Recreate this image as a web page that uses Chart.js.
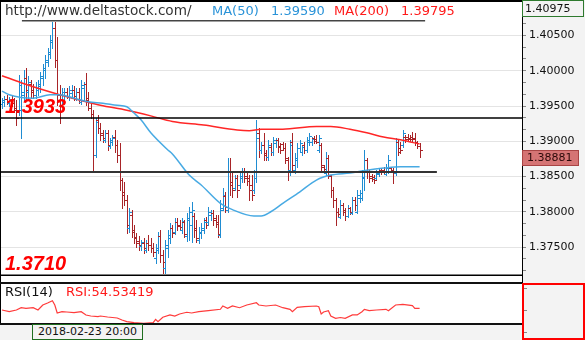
<!DOCTYPE html>
<html><head><meta charset="utf-8">
<script src="https://cdn.jsdelivr.net/npm/chart.js@4.4.1/dist/chart.umd.min.js"></script>
<style>
html,body{margin:0;padding:0;background:#fff;width:585px;height:340px;overflow:hidden;font-family:"DejaVu Sans",sans-serif;}
.a{position:absolute;white-space:nowrap;}
.lvl{font:italic bold 20px "Liberation Sans",Arial,sans-serif;color:#ff0000;line-height:20px;}
</style></head><body>
<div class="a" style="left:522px;top:0;width:63px;height:340px;background:#f3f3f3"></div>
<canvas id="main" class="a" style="left:0;top:0" width="585" height="283"></canvas>
<canvas id="rsi" class="a" style="left:0;top:283px" width="585" height="57"></canvas>

<div class="a" style="left:0;top:0;width:522px;height:2px;background:#000"></div>
<div class="a" style="left:0;top:0;width:1px;height:324px;background:#000"></div>
<div class="a" style="left:0;top:282px;width:522px;height:2px;background:#111"></div>
<div class="a" style="left:0;top:323px;width:522px;height:2px;background:#111"></div>
<div class="a" style="left:0;top:325px;width:522px;height:15px;background:#f3f3f3"></div>
<div class="a" style="left:32px;top:324px;width:111px;height:16px;box-sizing:border-box;border:1px solid #1f6e1f;background:#f3f3f3;font-size:11px;line-height:14px;color:#111;text-align:center">2018-02-23 20:00</div>
<div class="a" style="left:522px;top:283px;width:63px;height:57px;box-sizing:border-box;border:2px solid #ff0000"></div>

<div class="a" style="left:5px;top:2px;font-size:13.6px;line-height:16px;color:#333">http://www.deltastock.com/</div>
<div class="a" style="left:212px;top:3px;font-size:13px;line-height:16px;color:#2a93d8">MA(50)</div>
<div class="a" style="left:271px;top:3px;font-size:13px;line-height:16px;color:#2a93d8">1.39590</div>
<div class="a" style="left:334px;top:3px;font-size:13px;line-height:16px;color:#ff1a1a">MA(200)</div>
<div class="a" style="left:401px;top:3px;font-size:13px;line-height:16px;color:#ff1a1a">1.39795</div>
<div class="a lvl" style="left:5px;top:96px">1.3933</div>
<div class="a lvl" style="left:5px;top:253px">1.3710</div>
<div class="a" style="left:5px;top:284px;font-size:13px;line-height:16px;color:#111">RSI(14)</div>
<div class="a" style="left:66px;top:284px;font-size:13px;line-height:16px;color:#ff1a1a">RSI:54.53419</div>

<script>
const barOpen=[
1.3953,1.3956,1.3960,1.3954,1.3958,1.3954,1.3947,1.3941,1.3944,1.3966,
1.3990,1.3970,1.3981,1.3973,1.3966,1.3973,1.3978,1.3990,1.4001,1.4012,
1.4024,1.4041,1.4061,1.4015,1.3966,1.39585,1.3966,1.3970,1.3963,1.3968,
1.3973,1.3961,1.3970,1.3956,1.3975,1.3981,1.3961,1.3947,1.3939,1.3880,
1.3930,1.3919,1.3912,1.3902,1.3912,1.3893,1.3899,1.3906,1.3895,1.3880,
1.3845,1.3828,1.3817,1.3777,1.3795,1.3774,1.3764,1.3759,1.3751,1.3756,
1.3746,1.3756,1.3753,1.3749,1.3734,1.3746,1.3766,1.3739,1.3720,1.3749,
1.3763,1.3777,1.3771,1.3786,1.3781,1.3774,1.3786,1.3766,1.3788,1.3781,
1.3794,1.3777,1.3760,1.3770,1.3774,1.3788,1.3786,1.3795,1.3798,1.3791,
1.3786,1.3767,1.3805,1.3822,1.3803,1.3856,1.3842,1.3834,1.3848,1.3838,
1.3848,1.3856,1.3851,1.3848,1.3838,1.3831,1.3848,1.3912,1.3888,1.3895,
1.3883,1.3878,1.3892,1.3885,1.3897,1.3902,1.3893,1.3896,1.3890,1.3873,
1.3859,1.3899,1.3859,1.3873,1.3890,1.3885,1.3895,1.3888,1.3899,1.3899,
1.3905,1.3903,1.3888,1.3895,1.3863,1.3855,1.3876,1.3851,1.3831,1.3817,
1.3800,1.3793,1.3810,1.3803,1.3794,1.3805,1.3798,1.3817,1.3800,1.3820,
1.3820,1.3848,1.3873,1.3856,1.3851,1.3849,1.3848,1.3854,1.3859,1.3859,
1.3854,1.3856,1.3862,1.3859,1.3855,1.3899,1.3890,1.3895,1.3906,1.3906,
1.3905,1.3906,1.3905,1.3899,1.3893];
const barHigh=[
1.3961,1.3964,1.3966,1.3963,1.3964,1.3961,1.3958,1.3994,1.3987,1.4001,
1.4004,1.3993,1.3987,1.3981,1.3984,1.3987,1.3998,1.4010,1.4022,1.4032,
1.4051,1.4069,1.4069,1.4048,1.3980,1.3975,1.3975,1.3975,1.3978,1.3980,
1.3978,1.3975,1.3975,1.3987,1.3984,1.3997,1.3970,1.3953,1.3944,1.3933,
1.3937,1.3926,1.3916,1.3916,1.3916,1.3905,1.3909,1.3916,1.3902,1.3897,
1.3848,1.3842,1.3824,1.3805,1.3803,1.3781,1.3770,1.3766,1.3760,1.3763,
1.3760,1.3767,1.3763,1.3756,1.3754,1.3771,1.3774,1.3746,1.3760,1.3774,
1.3784,1.3781,1.3791,1.3791,1.3788,1.3791,1.3788,1.3798,1.3807,1.3814,
1.3798,1.3788,1.3778,1.3784,1.3791,1.3793,1.3807,1.3803,1.3803,1.3795,
1.3795,1.3817,1.3834,1.3828,1.3876,1.3876,1.3856,1.3852,1.3852,1.3856,
1.3862,1.3862,1.3856,1.3852,1.3852,1.3859,1.3930,1.3919,1.3899,1.3912,
1.3888,1.3902,1.3897,1.3906,1.3905,1.3905,1.3897,1.3899,1.3897,1.3878,
1.3902,1.3912,1.3883,1.3897,1.3902,1.3895,1.3899,1.3906,1.3912,1.3906,
1.3907,1.3909,1.3909,1.3897,1.3866,1.3885,1.3880,1.3852,1.3835,1.3820,
1.3805,1.3817,1.3812,1.3805,1.3810,1.3807,1.3821,1.3821,1.3831,1.3831,
1.3859,1.3888,1.3876,1.3859,1.3854,1.3852,1.3859,1.3862,1.3862,1.3863,
1.3868,1.3880,1.3863,1.3862,1.3905,1.3902,1.3899,1.3916,1.3909,1.3910,
1.3909,1.3913,1.3912,1.3900,1.3897];
const barLow=[
1.3947,1.3950,1.3953,1.3950,1.3950,1.3941,1.3923,1.3937,1.3905,1.3958,
1.3958,1.3958,1.3961,1.3961,1.3961,1.3966,1.3970,1.3980,1.3990,1.4007,
1.4018,1.4032,1.4005,1.3951,1.3926,1.3953,1.39585,1.3961,1.39585,1.3961,
1.39585,1.39585,1.3954,1.3953,1.39585,1.3951,1.3944,1.3933,1.3856,1.3878,
1.3912,1.3902,1.3899,1.3899,1.3888,1.3890,1.3895,1.3885,1.3871,1.3831,
1.3805,1.3810,1.3770,1.3771,1.3764,1.3756,1.3750,1.3746,1.3746,1.3742,
1.3743,1.3746,1.3743,1.3737,1.3727,1.3742,1.3729,1.3713,1.3713,1.3736,
1.3756,1.3764,1.3768,1.3774,1.3776,1.3770,1.3764,1.3759,1.3760,1.3757,
1.3764,1.3757,1.3756,1.3763,1.3770,1.3777,1.3781,1.3788,1.3781,1.3778,
1.3764,1.3764,1.3803,1.3800,1.3800,1.3824,1.3821,1.3831,1.3821,1.3834,
1.3842,1.3842,1.3838,1.3817,1.3817,1.3827,1.3842,1.3878,1.3883,1.3873,
1.3873,1.3873,1.3880,1.3880,1.3892,1.3885,1.3883,1.3888,1.3869,1.3845,
1.3852,1.3856,1.3855,1.3863,1.3885,1.3880,1.3883,1.3885,1.3895,1.3895,
1.3897,1.3897,1.3885,1.3859,1.3858,1.3852,1.3848,1.3821,1.3807,1.3781,
1.3794,1.3791,1.3795,1.3788,1.3793,1.3797,1.3797,1.3803,1.3798,1.3814,
1.3817,1.3831,1.3848,1.3842,1.3844,1.3841,1.3846,1.3851,1.3854,1.3855,
1.3852,1.3855,1.3856,1.3841,1.3852,1.3880,1.3883,1.3892,1.3899,1.3900,
1.3900,1.3899,1.3895,1.3890,1.3878];
const barClose=[
1.39585,1.3960,1.3956,1.3960,1.3954,1.3944,1.3933,1.3980,1.3970,1.3990,
1.3973,1.3984,1.3970,1.3966,1.3975,1.3981,1.3993,1.4004,1.4015,1.4027,
1.4044,1.4061,1.4015,1.3966,1.39585,1.3970,1.3970,1.3964,1.3973,1.3973,
1.3964,1.3970,1.39585,1.3980,1.3981,1.39585,1.3947,1.3939,1.3880,1.3927,
1.3919,1.3909,1.3905,1.3912,1.3895,1.3902,1.3905,1.3895,1.3880,1.3845,
1.3824,1.3817,1.3781,1.3800,1.3771,1.3763,1.3756,1.3753,1.3757,1.3749,
1.3756,1.3753,1.3749,1.3743,1.3749,1.3766,1.3739,1.3729,1.3753,1.3767,
1.3777,1.3770,1.3786,1.3780,1.3778,1.3787,1.3768,1.3791,1.3800,1.3803,
1.3774,1.3763,1.3771,1.3777,1.3786,1.3781,1.3800,1.3798,1.3788,1.3783,
1.3768,1.3803,1.3824,1.3807,1.3856,1.3838,1.3831,1.3848,1.3831,1.3851,
1.3856,1.3848,1.3844,1.3831,1.3824,1.3848,1.3905,1.3888,1.3895,1.3880,
1.3878,1.3895,1.3885,1.3902,1.3902,1.3892,1.3888,1.3890,1.3876,1.3856,
1.3895,1.3866,1.3876,1.3890,1.3897,1.3892,1.3888,1.3902,1.3907,1.3903,
1.3900,1.3899,1.3905,1.3866,1.3861,1.3876,1.3852,1.3831,1.3817,1.3800,
1.3797,1.3810,1.3800,1.3794,1.3805,1.3800,1.3817,1.3810,1.3824,1.3827,
1.3849,1.3873,1.3856,1.3848,1.3846,1.3845,1.3855,1.3859,1.3856,1.3856,
1.3862,1.3873,1.3858,1.3855,1.3899,1.3885,1.3888,1.3912,1.3903,1.3903,
1.3903,1.3903,1.3899,1.3893,1.38881];

const ma50Idx=[0,3,8,13,20,24,30,36,42,48,52,55,58,62,69,71,78,83,91,96,105,108,112,117,124,131,137,145,152,159,166,174];
const ma50Val=[1.3971,1.3966,1.3962,1.3961,1.3966,1.3966,1.3961,1.3956,1.3954,1.3951,1.3949,1.3940,1.3930,1.3912,1.3888,1.3882,1.3852,1.3838,1.3812,1.3803,1.3794,1.3794,1.3800,1.3812,1.3828,1.3845,1.3852,1.3855,1.3859,1.3862,1.3864,1.3864];
const ma200Idx=[0,8,16,24,35,41,52,62,71,84,98,103,108,117,131,137,145,152,159,166,174];
const ma200Val=[1.3993,1.3983,1.3974,1.3966,1.3956,1.3951,1.3944,1.3936,1.3928,1.3923,1.3916,1.3915,1.3917,1.3917,1.3921,1.3921,1.3917,1.3912,1.3906,1.3902,1.3896];
const rsiIdx=[0,3,6,8,10,13,15,17,19,21,22,23,25,27,30,33,35,37,40,41,44,48,50,52,55,59,63,64,65,67,70,72,74,77,79,82,86,91,92,94,96,99,102,106,107,110,114,117,120,121,123,126,131,132,133,134,136,137,139,141,143,146,148,150,151,153,156,160,161,164,167,171,172,174];
const rsiVal=[51.4,48.4,51.4,55.6,54.5,55.6,51.4,60.5,64.2,68.4,60.5,46.0,48.4,47.8,46.5,48.4,42.4,40.5,39.3,40.5,38.7,36.9,33.2,30.2,28.4,27.3,28.4,34.5,30.2,38.2,42.4,40.5,44.2,47.3,46.0,48.4,50.2,52.7,58.7,54.5,58.7,55.6,60.5,64.7,60.5,58.7,60.5,55.6,52.7,48.4,56.3,57.4,58.7,57.4,44.2,47.8,50.2,40.5,36.3,37.8,36.3,42.4,42.4,48.4,52.7,50.2,51.4,52.7,50.2,60.5,61.8,59.3,54.5,54.53419];

const levelValues=[1.3933,1.3710,1.38564,1.40709];
const levelFrom=[-0.833,-0.833,-0.833,8.3];
const levelTo=[216.667,216.667,181.2,176.3];
const yMajorTicks=[1.375,1.380,1.385,1.390,1.395,1.400,1.405];
const rsiTicks=[10,30,50,70,90];

const yMin=1.37004, yMax=1.40975, xMin=-0.833, xMax=216.667;
const rsiMin=-3.11, rsiMax=100.53;
const UP='#1f8cd2', DOWN='#a82428';
const levelColors=['#000','#000','#333','#444'];
const levelWidths=[1.5,1.5,2,1.5];

Chart.defaults.font.family="'DejaVu Sans', sans-serif";

const ohlcPlugin={id:'ohlc',beforeDatasetsDraw(chart){
  const ctx=chart.ctx, x=chart.scales.x, y=chart.scales.y;
  ctx.save();
  for(let i=0;i<barClose.length;i++){
    const px=Math.round(x.getPixelForValue(i));
    const yh=Math.round(y.getPixelForValue(barHigh[i])), yl=Math.round(y.getPixelForValue(barLow[i]));
    const yo=Math.round(y.getPixelForValue(barOpen[i])), yc=Math.round(y.getPixelForValue(barClose[i]));
    ctx.fillStyle=barClose[i]>=barOpen[i]?UP:DOWN;
    ctx.fillRect(px,yh,1,Math.max(1,yl-yh+1));
    ctx.fillRect(px-2,yo,2,1);
    ctx.fillRect(px+1,yc,2,1);
  }
  ctx.restore();
}};
const boxPlugin={id:'boxes',afterDraw(chart){
  const ctx=chart.ctx, y=chart.scales.y, r=chart.chartArea.right;
  ctx.save();
  ctx.font="11px 'DejaVu Sans'"; ctx.textBaseline='middle'; ctx.textAlign='left';
  ctx.fillStyle='#f3f3f3'; ctx.fillRect(r+1,0,62,17);
  ctx.strokeStyle='#2e7a2e'; ctx.lineWidth=1; ctx.strokeRect(r+0.5,0.5,61,16);
  ctx.fillStyle='#111'; ctx.fillText(y.max.toFixed(5),r+3,9);
  const last=barClose[barClose.length-1];
  const py=Math.round(y.getPixelForValue(last));
  ctx.fillStyle='#d57474'; ctx.fillRect(r,py,57,16);
  ctx.strokeStyle='#a84444'; ctx.strokeRect(r+0.5,py+0.5,56,15);
  ctx.fillStyle='#2a0808'; ctx.fillText(last.toFixed(5),r+5,py+8.5);
  ctx.restore();
}};

function lineDs(pts,color,w){return {type:'line',data:pts,borderColor:color,borderWidth:w,pointRadius:0,fill:false,cubicInterpolationMode:'monotone'};}
const ds=[];
levelValues.forEach((v,k)=>ds.push(lineDs([{x:levelFrom[k],y:v},{x:levelTo[k],y:v}],levelColors[k],levelWidths[k])));
ds.push(lineDs(ma50Idx.map((x,k)=>({x,y:ma50Val[k]})),'rgba(62,165,225,0.95)',1.5));
ds.push(lineDs(ma200Idx.map((x,k)=>({x,y:ma200Val[k]})),'#ff2626',1.5));

new Chart(document.getElementById('main'),{
  type:'line',
  data:{datasets:ds},
  plugins:[ohlcPlugin,boxPlugin],
  options:{
    responsive:false,animation:false,devicePixelRatio:1,events:[],
    layout:{padding:{left:0,right:0,top:2,bottom:1}},
    plugins:{legend:{display:false},tooltip:{enabled:false}},
    scales:{
      x:{type:'linear',min:xMin,max:xMax,display:false},
      y:{type:'linear',position:'right',min:yMin,max:yMax,
        afterBuildTicks(s){
          const step=(yMajorTicks[1]-yMajorTicks[0])/3, t=[];
          for(let k=-3;k<=(yMajorTicks.length-1)*3+3;k++){
            const v=yMajorTicks[0]+k*step;
            if(v>=yMin&&v<=yMax) t.push({value:v,major:(k%3===0)&&k>=0&&k<=(yMajorTicks.length-1)*3});
          }
          s.ticks=t;
        },
        afterFit(s){s.width=63;s.paddingTop=0;s.paddingBottom=0;},
        grid:{color:c=>(c.tick&&c.tick.major)?'#e4e4e4':'rgba(0,0,0,0)',tickColor:'#888',tickLength:4,lineWidth:1},
        border:{display:true,color:'#000',width:1},
        ticks:{autoSkip:false,padding:3,color:'#111',font:{size:11},callback:(v,i,ts)=>ts[i].major?v.toFixed(5):''}
      }
    }
  }
});

new Chart(document.getElementById('rsi'),{
  type:'line',
  data:{datasets:[{data:rsiIdx.map((x,k)=>({x,y:rsiVal[k]})),borderColor:'#ff3b3b',borderWidth:1.2,pointRadius:0,fill:false,tension:0}]},
  options:{
    responsive:false,animation:false,devicePixelRatio:1,events:[],
    layout:{padding:0},
    plugins:{legend:{display:false},tooltip:{enabled:false}},
    scales:{
      x:{type:'linear',min:xMin,max:xMax,display:false},
      y:{type:'linear',position:'right',min:rsiMin,max:rsiMax,
        afterBuildTicks(s){s.ticks=rsiTicks.map(v=>({value:v}));},
        afterFit(s){s.width=63;s.paddingTop=0;s.paddingBottom=0;},
        grid:{drawOnChartArea:false,tickColor:'#888',tickLength:5},
        border:{display:false},
        ticks:{callback:()=>'',padding:0}
      }
    }
  }
});
</script>
</body></html>
